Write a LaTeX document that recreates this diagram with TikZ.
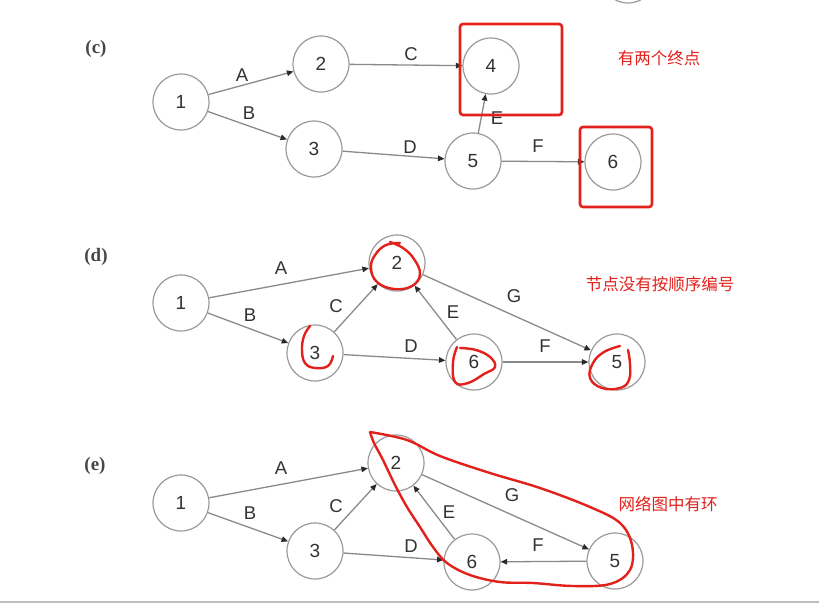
\documentclass[tikz,border=0pt]{standalone}
\usepackage{fontspec}
\setmainfont{Liberation Sans}
\newfontfamily\cjkf{Noto Sans CJK SC}
\newfontfamily\serf{Liberation Serif}
\usetikzlibrary{arrows.meta}
\definecolor{redmark}{HTML}{E3211C}
\definecolor{circgray}{HTML}{9A9A9A}
\definecolor{edgegray}{HTML}{8A8A8A}
\definecolor{numgray}{HTML}{333333}
\definecolor{tipgray}{HTML}{2A2A2A}
\definecolor{basegray}{HTML}{BDBDBD}
\begin{document}
\begin{tikzpicture}[x=1pt,y=-1pt,
  nd/.style={circle, draw=circgray, line width=1.2pt, minimum size=56pt, inner sep=0pt,
    font=\fontsize{19}{19}\selectfont, text=numgray},
  ed/.style={draw=edgegray, line width=1.3pt, -{Triangle[length=6.5pt,width=5.5pt,color=tipgray]}},
  lb/.style={font=\fontsize{18.5}{18.5}\selectfont, text=numgray, inner sep=0pt},
  pl/.style={font=\serf\bfseries\fontsize{19}{19}\selectfont, text=numgray!90, inner sep=0pt},
  rt/.style={font=\cjkf\fontsize{16.5}{16.5}\selectfont, text=redmark, inner sep=0pt},
  rb/.style={draw=redmark, line width=2.6pt, rounded corners=3pt},
  scr/.style={draw=redmark, line width=2.4pt, line cap=round, line join=round}]
\useasboundingbox[fill=white] (0,0) rectangle (819,603);
\begin{scope}
\clip (0,0) rectangle (819,603);
\node[nd] (top) at (628,-25) {};
\end{scope}
\draw[basegray, line width=2pt] (0,601.5) -- (819,601.5);

% ---------- (c)
\node[pl] (pc) at (96,49) {(c)};
\node[nd] (c1) at (181,102) {1};
\node[nd] (c2) at (321,64) {2};
\node[nd] (c3) at (314,149) {3};
\node[nd] (c4) at (491,66) {4};
\node[nd] (c5) at (473,161) {5};
\node[nd] (c6) at (613,162) {6};
\draw[ed] (c1) -- (c2);
\draw[ed] (c1) -- (c3);
\draw[ed] (c2) -- (c4);
\draw[ed] (c3) -- (c5);
\draw[ed] (c5) -- (c4);
\draw[ed] (c5) -- (c6);
\node[lb] (cA) at (242,75) {A};
\node[lb] (cB) at (249,113) {B};
\node[lb] (cC) at (411,54) {C};
\node[lb] (cD) at (410,147) {D};
\node[lb] (cE) at (497,118) {E};
\node[lb] (cF) at (538,146) {F};
\draw[rb] (460,24) rectangle (562,115);
\draw[rb] (580,127) rectangle (652,207);
\node[rt] (tc) at (659,58) {有两个终点};

% ---------- (d)
\node[pl] (pd) at (96,257) {(d)};
\node[nd] (d1) at (181,303) {1};
\node[nd] (d2) at (397,263) {2};
\node[nd] (d3) at (315,353) {3};
\node[nd] (d6) at (474,362) {6};
\node[nd] (d5) at (617,362) {5};
\draw[ed] (d1) -- (d2);
\draw[ed] (d1) -- (d3);
\draw[ed] (d3) -- (d2);
\draw[ed] (d3) -- (d6);
\draw[ed] (d6) -- (d2);
\draw[ed] (d6) -- (d5);
\draw[ed] (d2) -- (d5);
\node[lb] (dA) at (281,268) {A};
\node[lb] (dB) at (250,315) {B};
\node[lb] (dC) at (336,306) {C};
\node[lb] (dD) at (411,346) {D};
\node[lb] (dE) at (453,312) {E};
\node[lb] (dF) at (545,346) {F};
\node[lb] (dG) at (514,296) {G};
\node[rt] (td) at (660,284) {节点没有按顺序编号};
\draw[scr] plot[smooth, tension=0.7] coordinates {(400,243) (386,245) (375,255) (371,268) (377,282) (394,289) (412,286) (420,274) (414,259) (403,248) (390,242)};
\draw[scr] plot[smooth, tension=0.7] coordinates {(310,326) (304,336) (302,350) (305,363) (315,368) (328,366) (333,356)};
\draw[scr] plot[smooth, tension=0.7] coordinates {(457,347) (453,362) (455,382) (468,383) (484,374) (495,367) (490,357) (476,350) (460,348)};
\draw[scr] plot[smooth, tension=0.7] coordinates {(620,346) (604,352) (593,363) (590,378) (602,388) (620,388) (629,380) (630,364) (628,350)};

% ---------- (e)
\node[pl] (pe) at (95,466) {(e)};
\node[nd] (e1) at (181,503) {1};
\node[nd] (e2) at (396,463) {2};
\node[nd] (e3) at (315,551) {3};
\node[nd] (e6) at (472,562) {6};
\node[nd] (e5) at (615,561) {5};
\draw[ed] (e1) -- (e2);
\draw[ed] (e1) -- (e3);
\draw[ed] (e3) -- (e2);
\draw[ed] (e3) -- (e6);
\draw[ed] (e6) -- (e2);
\draw[ed] (e5) -- (e6);
\draw[ed] (e2) -- (e5);
\node[lb] (eA) at (281,468) {A};
\node[lb] (eB) at (250,513) {B};
\node[lb] (eC) at (336,506) {C};
\node[lb] (eD) at (411,546) {D};
\node[lb] (eE) at (449,512) {E};
\node[lb] (eF) at (538,545) {F};
\node[lb] (eG) at (512,495) {G};
\node[rt] (te) at (668,504) {网络图中有环};
\draw[scr] plot[smooth, tension=0.6] coordinates {(370,432) (407,440) (440,456) (490,473) (540,488) (590,507) (620,523) (632,545) (630,570) (610,584) (573,586) (533,583) (500,582) (470,575) (447,563) (433,547) (420,527) (407,507) (395,485) (383,460) (374,443) (370,432)};
\end{tikzpicture}
\end{document}
